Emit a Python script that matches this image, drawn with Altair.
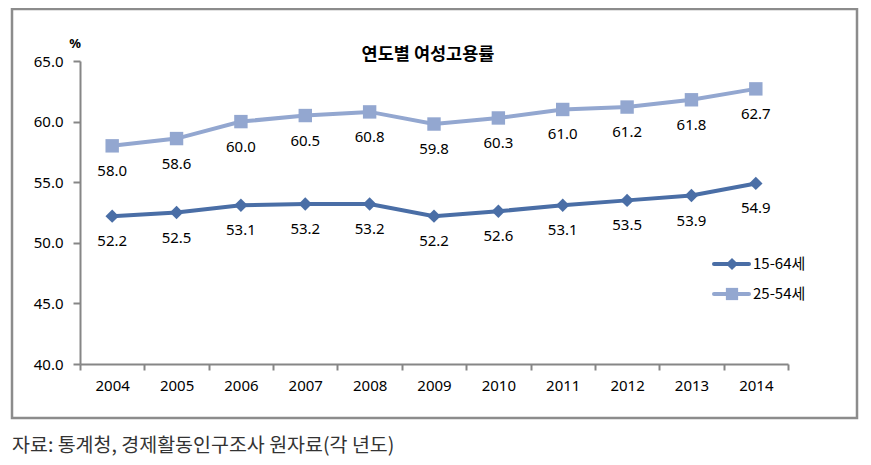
import altair as alt
import pandas as pd

years = [str(y) for y in range(2004, 2015)]
s1_name = "15-64세"
s2_name = "25-54세"
s1_vals = [52.2, 52.5, 53.1, 53.2, 53.2, 52.2, 52.6, 53.1, 53.5, 53.9, 54.9]
s2_vals = [58.0, 58.6, 60.0, 60.5, 60.8, 59.8, 60.3, 61.0, 61.2, 61.8, 62.7]
y_ticks = [40, 45, 50, 55, 60, 65]
title_text = "연도별 여성고용률"
unit_text = "%"
source_text = "자료: 통계청, 경제활동인구조사 원자료(각 년도)"

c1 = "#4A6EA6"
c2 = "#93A7D0"
FONT = "Noto Sans"
KFONT = "Noto Sans CJK KR"

W, H = 708, 303

df = pd.DataFrame({
    "year": years * 2,
    "value": s1_vals + s2_vals,
    "series": [s1_name] * len(years) + [s2_name] * len(years),
})

xenc = alt.X("year:O", title=None,
             scale=alt.Scale(domain=years, paddingInner=0, paddingOuter=0),
             axis=alt.Axis(labelAngle=0, tickBand="extent", tickSize=6, tickWidth=2,
                           tickColor="#868686", domainColor="#868686", domainWidth=2,
                           labelFont=FONT, labelFontSize=15, labelColor="#000",
                           labelPadding=8))
yenc = alt.Y("value:Q", title=None,
             scale=alt.Scale(domain=[40, 65], nice=False, zero=False),
             axis=alt.Axis(values=y_ticks, format=".1f", tickSize=7, tickWidth=2,
                           tickColor="#868686", domainColor="#868686", domainWidth=2,
                           labelFont=FONT, labelFontSize=15, labelColor="#000",
                           labelPadding=10, grid=False))

color = alt.Color("series:N", scale=alt.Scale(domain=[s1_name, s2_name], range=[c1, c2]), legend=None)
shape = alt.Shape("series:N", scale=alt.Scale(domain=[s1_name, s2_name], range=["diamond", "square"]), legend=None)

base = alt.Chart(df)
lines = base.mark_line(strokeWidth=4).encode(x=xenc, y=yenc, color=color, detail="series:N")
points = base.mark_point(filled=True, size=180, opacity=1).encode(x=xenc, y=yenc, color=color, shape=shape)
labels = base.mark_text(dy=25, font=FONT, fontSize=15, color="#000", baseline="middle").encode(
    x=xenc, y=yenc, text=alt.Text("value:Q", format=".1f"))

# Frame
frame = alt.Chart(pd.DataFrame({"a": [0]})).mark_rect(filled=False, stroke="#8c8c8c", strokeWidth=2.5).encode(
    x=alt.value(-68), x2=alt.value(777), y=alt.value(-52), y2=alt.value(357))

title = alt.Chart(pd.DataFrame({"t": [title_text]})).mark_text(
    font=KFONT, fontSize=17.5, fontWeight="bold", color="#000", baseline="middle", align="center").encode(
    text="t:N", x=alt.value(348), y=alt.value(-6))

unit = alt.Chart(pd.DataFrame({"t": [unit_text]})).mark_text(
    font=FONT, fontSize=13, fontWeight="bold", color="#000", baseline="middle", align="center").encode(
    text="t:N", x=alt.value(-5), y=alt.value(-17))

source = alt.Chart(pd.DataFrame({"t": [source_text]})).mark_text(
    font=KFONT, fontSize=19.5, color="#333", baseline="middle", align="left").encode(
    text="t:N", x=alt.value(-68), y=alt.value(385))

legend_layers = []
for name, col, shp, yy in [(s1_name, c1, "diamond", 203), (s2_name, c2, "square", 233)]:
    ldf = pd.DataFrame({"series": [name]})
    lc = alt.Chart(ldf)
    legend_layers.append(lc.mark_rule(strokeWidth=4, color=col, strokeCap="round").encode(
        x=alt.value(634), x2=alt.value(669), y=alt.value(yy)))
    legend_layers.append(lc.mark_point(filled=True, size=150, shape=shp, color=col, opacity=1).encode(
        x=alt.value(652), y=alt.value(yy)))
    legend_layers.append(lc.mark_text(font=KFONT, fontSize=15, color="#000", align="left", baseline="middle").encode(
        text="series:N", x=alt.value(673), y=alt.value(yy)))

chart = alt.layer(frame, lines, points, labels, title, unit, source, *legend_layers).properties(
    width=W, height=H,
    padding={"left": 72, "top": 53, "right": 75, "bottom": 100},
    autosize=alt.AutoSizeParams(type="none"),
    background="white",
).configure_view(stroke=None)

chart.save("out.html", embed_options={"renderer": "svg", "actions": False})
